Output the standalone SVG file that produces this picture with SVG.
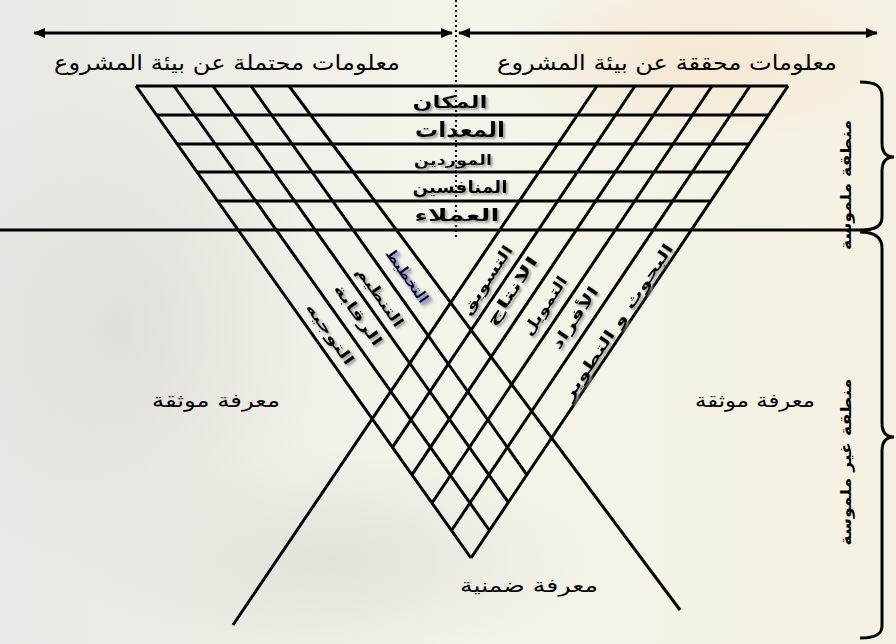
<svg xmlns="http://www.w3.org/2000/svg" width="896" height="644" viewBox="0 0 896 644">
<style>
.ln{stroke:#000;stroke-width:3;fill:none;stroke-linecap:butt}
.t{font-family:"DejaVu Sans",sans-serif;fill:#000;text-anchor:middle}
.b{font-weight:bold}
</style>
<defs>
<linearGradient id="bg" x1="0" y1="0" x2="1" y2="0">
<stop offset="0" stop-color="#e9e9e5"/>
<stop offset="0.5" stop-color="#f4f4ea"/>
<stop offset="1" stop-color="#f5f1e2"/>
</linearGradient>
<radialGradient id="blob" cx="0.5" cy="0.5" r="0.5">
<stop offset="0" stop-color="#d8d6d0" stop-opacity="0.6"/>
<stop offset="1" stop-color="#d8d6d0" stop-opacity="0"/>
</radialGradient>
<radialGradient id="blob2" cx="0.5" cy="0.5" r="0.5">
<stop offset="0" stop-color="#f6dfc4" stop-opacity="0.6"/>
<stop offset="1" stop-color="#f6dfc4" stop-opacity="0"/>
</radialGradient>
<filter id="sh" x="-20%" y="-20%" width="140%" height="140%">
<feDropShadow dx="2" dy="2" stdDeviation="0.8" flood-color="#9a9a9a" flood-opacity="0.9"/>
</filter>
<filter id="shb" x="-20%" y="-20%" width="140%" height="140%">
<feDropShadow dx="2" dy="2" stdDeviation="0.8" flood-color="#8f8ff0" flood-opacity="0.9"/>
</filter>
<marker id="ah" viewBox="0 0 12 10" refX="11" refY="5" markerWidth="12" markerHeight="10" markerUnits="userSpaceOnUse" orient="auto-start-reverse">
<path d="M0,0 L12,5 L0,10 Z" fill="#000"/>
</marker>
</defs>
<rect x="0" y="0" width="896" height="644" fill="url(#bg)"/>
<ellipse cx="120" cy="330" rx="200" ry="260" fill="url(#blob)"/>
<ellipse cx="330" cy="560" rx="260" ry="110" fill="url(#blob)"/>
<ellipse cx="700" cy="60" rx="200" ry="90" fill="url(#blob2)"/>

<g id="connectors">
<line class="ln" x1="34" y1="33" x2="452" y2="33" marker-start="url(#ah)" marker-end="url(#ah)"/>
<line class="ln" x1="459" y1="33" x2="877" y2="33" marker-start="url(#ah)" marker-end="url(#ah)"/>
<line x1="456" y1="0" x2="456" y2="240" stroke="#000" stroke-width="2" stroke-dasharray="2,3"/>
<!-- horizontal grid -->
<line class="ln" x1="136" y1="86" x2="788" y2="86"/>
<line class="ln" x1="156.6" y1="115" x2="768.5" y2="115"/>
<line class="ln" x1="177.2" y1="144" x2="749" y2="144"/>
<line class="ln" x1="197" y1="172" x2="730.2" y2="172"/>
<line class="ln" x1="217.6" y1="201" x2="710.8" y2="201"/>
<line class="ln" x1="0" y1="230" x2="860" y2="230"/>
<!-- left grid (down-right) -->
<line class="ln" x1="136" y1="86" x2="471" y2="558"/>
<line class="ln" x1="174" y1="86" x2="489.5" y2="530.5"/>
<line class="ln" x1="213" y1="86" x2="508.4" y2="502.3"/>
<line class="ln" x1="251" y1="86" x2="526.9" y2="474.8"/>
<line class="ln" x1="289" y1="86" x2="680" y2="610"/>
<!-- right grid (down-left) -->
<line class="ln" x1="788" y1="86" x2="471" y2="558"/>
<line class="ln" x1="750" y1="86" x2="451.5" y2="530.5"/>
<line class="ln" x1="712" y1="86" x2="432" y2="503"/>
<line class="ln" x1="673" y1="86" x2="411.9" y2="474.8"/>
<line class="ln" x1="635" y1="86" x2="392.4" y2="447.3"/>
<line class="ln" x1="597" y1="86" x2="233" y2="625"/>
<!-- braces -->
<path class="ln" d="M860,82 C876,82 882,86 882,97 L882,143 C882,152 886,157 894,157 C886,157 882,162 882,171 L882,217 C882,226 876,230 860,230"/>
<path class="ln" d="M860,232 C876,232 882,238 882,248 L882,423 C882,432 886,437 894,437 C886,437 882,442 882,451 L882,626 C882,634 876,638 860,638"/>
</g>

<g id="top-left-label"><text class="t" x="227" y="70" font-size="21" textLength="346" lengthAdjust="spacingAndGlyphs">معلومات محتملة عن بيئة المشروع</text></g>
<g id="top-right-label"><text class="t" x="667" y="70" font-size="21" textLength="340" lengthAdjust="spacingAndGlyphs">معلومات محققة عن بيئة المشروع</text></g>

<g id="rows" filter="url(#sh)">
<g id="row-place"><text class="t b" x="450" y="108" font-size="17" textLength="75" lengthAdjust="spacingAndGlyphs">المكان</text></g>
<g id="row-equipment"><text class="t b" x="460" y="137" font-size="21" textLength="90" lengthAdjust="spacingAndGlyphs">المعدات</text></g>
<g id="row-suppliers"><text class="t b" x="453" y="165" font-size="14" textLength="78" lengthAdjust="spacingAndGlyphs">الموردين</text></g>
<g id="row-competitors"><text class="t b" x="460" y="193" font-size="17" textLength="95" lengthAdjust="spacingAndGlyphs">المنافسين</text></g>
<g id="row-customers"><text class="t b" x="457" y="221" font-size="17" textLength="85" lengthAdjust="spacingAndGlyphs">العملاء</text></g>
</g>

<g id="left-cols" filter="url(#sh)">
<g id="col-planning" filter="url(#shb)"><text class="t b" font-size="15" transform="translate(407,276) rotate(54.8)" y="5" textLength="62" lengthAdjust="spacingAndGlyphs">التخطيط</text></g>
<g id="col-organizing"><text class="t b" font-size="15" transform="translate(380,297) rotate(54.8)" y="5" textLength="70" lengthAdjust="spacingAndGlyphs">التنظيم</text></g>
<g id="col-control"><text class="t b" font-size="15" transform="translate(358,315) rotate(54.8)" y="5" textLength="72" lengthAdjust="spacingAndGlyphs">الرقابة</text></g>
<g id="col-directing"><text class="t b" font-size="15" transform="translate(330,334) rotate(54.8)" y="5" textLength="72" lengthAdjust="spacingAndGlyphs">التوجيه</text></g>
</g>

<g id="right-cols" filter="url(#sh)">
<g id="col-marketing"><text class="t b" font-size="15" transform="translate(487,280) rotate(-56)" y="5" textLength="80" lengthAdjust="spacingAndGlyphs">التسويق</text></g>
<g id="col-production"><text class="t b" font-size="15" transform="translate(512,291) rotate(-56)" y="5" textLength="80" lengthAdjust="spacingAndGlyphs">الانتاج</text></g>
<g id="col-finance"><text class="t b" font-size="15" transform="translate(545,306) rotate(-56)" y="5" textLength="68" lengthAdjust="spacingAndGlyphs">التمويل</text></g>
<g id="col-hr"><text class="t b" font-size="15" transform="translate(575,318) rotate(-56)" y="5" textLength="72" lengthAdjust="spacingAndGlyphs">الأفراد</text></g>
<g id="col-rnd"><text class="t b" font-size="15" transform="translate(618,322) rotate(-56)" y="5" textLength="185" lengthAdjust="spacingAndGlyphs">البحوث و التطوير</text></g>
</g>

<g id="doc-left"><text class="t" x="216" y="407" font-size="19" textLength="128" lengthAdjust="spacingAndGlyphs">معرفة موثقة</text></g>
<g id="doc-right"><text class="t" x="755" y="407" font-size="19" textLength="120" lengthAdjust="spacingAndGlyphs">معرفة موثقة</text></g>
<g id="tacit"><text class="t" x="529" y="592" font-size="19" textLength="138" lengthAdjust="spacingAndGlyphs">معرفة ضمنية</text></g>

<g id="zone-tangible"><text class="t b" font-size="15" transform="translate(846,185) rotate(-90)" y="5" textLength="130" lengthAdjust="spacingAndGlyphs">منطقة ملموسة</text></g>
<g id="zone-intangible"><text class="t b" font-size="15" transform="translate(846,462) rotate(-90)" y="5" textLength="167" lengthAdjust="spacingAndGlyphs">منطقة غير ملموسة</text></g>
</svg>
